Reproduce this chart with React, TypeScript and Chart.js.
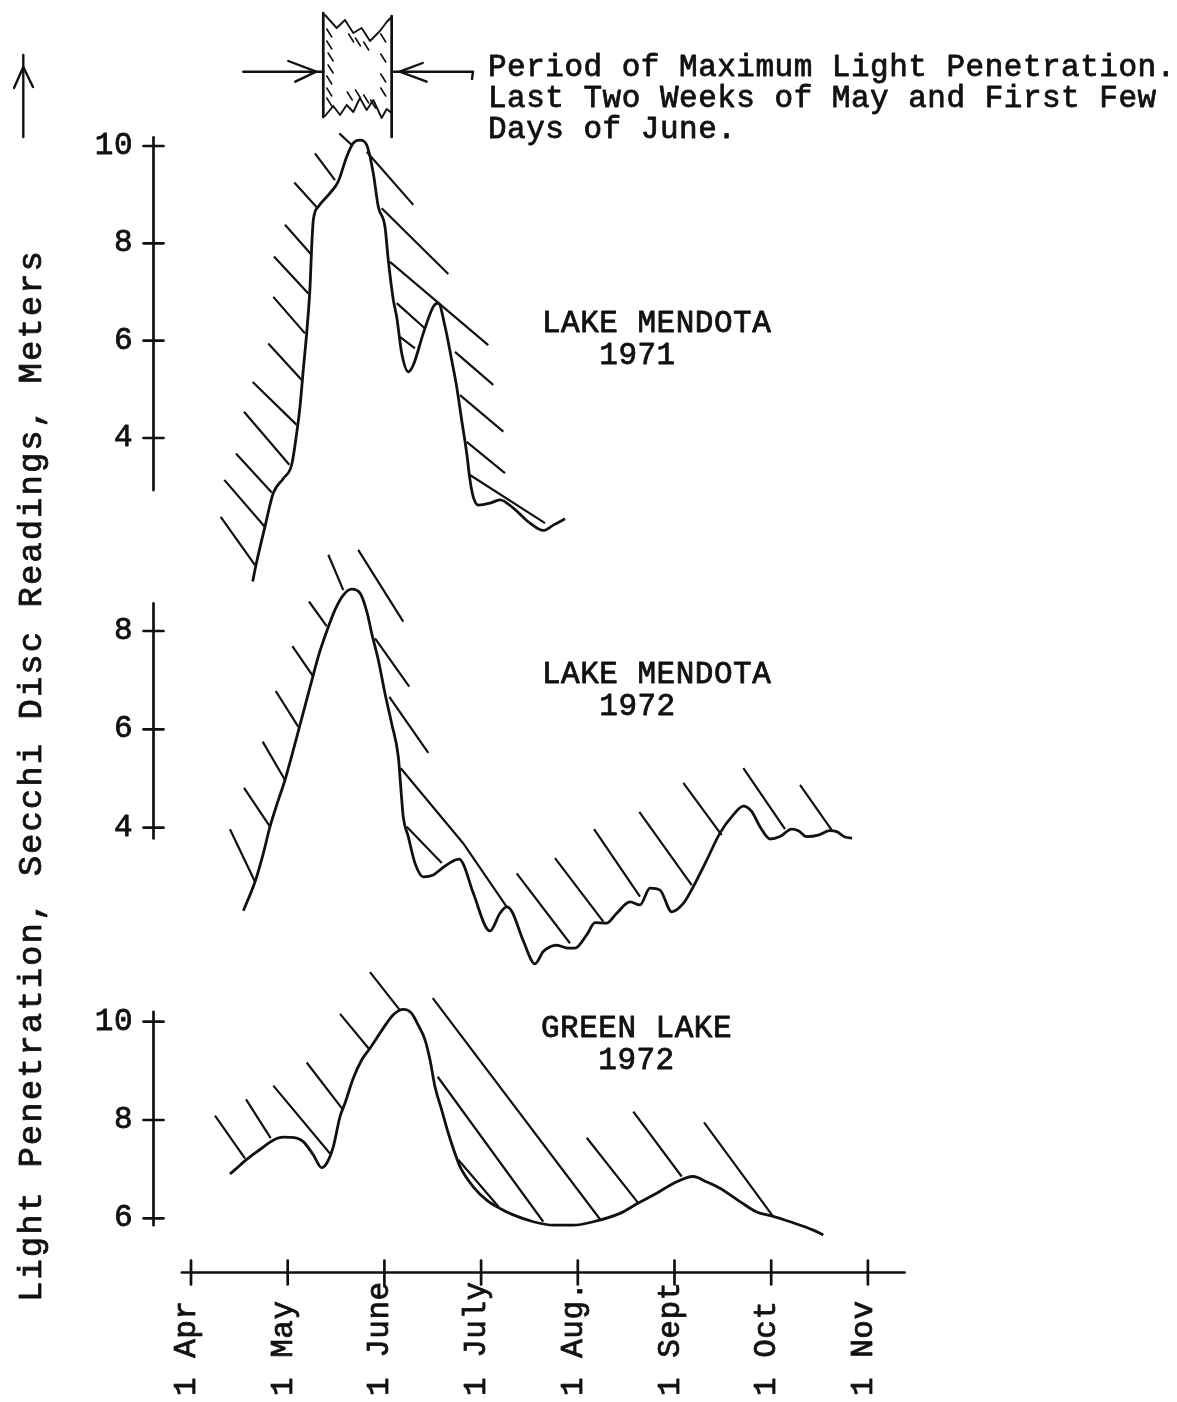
import React, { useEffect, useRef } from "react";
import { Chart, registerables } from "chart.js";

Chart.register(...registerables);

// ---------------- data (x = months after 1 April) ----------------
const MONTH_TICKS = [0, 1, 2, 3, 4, 5, 6, 7];
const MONTH_LABELS = ["1 Apr", "1 May", "1 June", "1 July", "1 Aug.", "1 Sept", "1 Oct", "1 Nov"];
const X_AXIS_RANGE = [-0.095, 7.38];

// Period of maximum light penetration (months after 1 April)
const PERIOD = [1.368, 2.075];

// Lake Mendota 1971 (Secchi depth, m)
const MENDOTA71_X = [0.638, 0.672, 0.765, 0.851, 0.955, 1.041, 1.093, 1.127, 1.161, 1.196, 1.231, 1.248, 1.265, 1.316, 1.437, 1.523, 1.61, 1.678, 1.748, 1.817, 1.885, 1.937, 2.006, 2.04, 2.092, 2.127, 2.179, 2.247, 2.299, 2.402, 2.506, 2.557, 2.627, 2.696, 2.748, 2.799, 2.851, 2.885, 2.919, 2.971, 3.092, 3.195, 3.333, 3.506, 3.643, 3.747, 3.868];
const MENDOTA71_Y = [1.05, 1.39, 2.18, 2.87, 3.17, 3.45, 4.1, 4.64, 5.4, 6.15, 7.11, 7.93, 8.48, 8.75, 9.03, 9.27, 9.78, 10.06, 10.12, 10.02, 9.44, 8.75, 8.34, 7.66, 6.84, 6.49, 5.74, 5.36, 5.5, 6.15, 6.7, 6.77, 6.29, 5.6, 5.05, 4.37, 3.69, 3.14, 2.79, 2.62, 2.66, 2.73, 2.56, 2.25, 2.1, 2.21, 2.34];
const MENDOTA71_TICKS = [4, 6, 8, 10];
const MENDOTA71_AXIS = [2.93, 10.18];
const MENDOTA71_HATCH = [
  [0.307, 2.38, 0.662, 1.39], [0.344, 3.14, 0.765, 2.17], [0.465, 3.68, 0.835, 2.88],
  [0.548, 4.54, 1.017, 3.45], [0.638, 5.15, 1.093, 4.27], [0.799, 5.94, 1.145, 5.19],
  [0.851, 6.9, 1.179, 6.15], [0.858, 7.73, 1.213, 6.97], [0.972, 8.38, 1.248, 7.76],
  [1.068, 9.25, 1.3, 8.74], [1.282, 9.85, 1.489, 9.3], [1.534, 10.26, 1.662, 10.02],
  [1.817, 9.88, 2.299, 8.79], [1.972, 8.72, 2.661, 7.37], [2.058, 7.62, 3.074, 5.91],
  [2.127, 6.77, 2.42, 6.25], [2.161, 6.08, 2.316, 5.84], [2.73, 5.77, 3.126, 5.09],
  [2.782, 4.88, 3.23, 4.13], [2.851, 3.92, 3.247, 3.28], [2.885, 3.24, 3.661, 2.25],
];

// Lake Mendota 1972
const MENDOTA72_X = [0.541, 0.662, 0.748, 0.817, 0.903, 0.972, 1.058, 1.127, 1.196, 1.265, 1.316, 1.403, 1.489, 1.575, 1.662, 1.748, 1.823, 1.869, 1.937, 2.006, 2.075, 2.144, 2.169, 2.195, 2.247, 2.316, 2.402, 2.506, 2.593, 2.696, 2.771, 2.816, 2.919, 3.092, 3.195, 3.265, 3.32, 3.436, 3.557, 3.643, 3.782, 3.902, 3.971, 4.092, 4.178, 4.299, 4.402, 4.54, 4.643, 4.747, 4.85, 4.971, 5.091, 5.194, 5.333, 5.47, 5.608, 5.712, 5.798, 5.884, 5.988, 6.091, 6.212, 6.28, 6.367, 6.487, 6.608, 6.677, 6.763, 6.836];
const MENDOTA72_Y = [2.31, 2.9, 3.48, 4.02, 4.56, 4.97, 5.58, 6.09, 6.6, 7.11, 7.48, 7.99, 8.43, 8.73, 8.85, 8.77, 8.36, 7.95, 7.41, 6.73, 6.12, 5.44, 4.83, 4.22, 3.82, 3.28, 3.0, 3.04, 3.17, 3.31, 3.36, 3.26, 2.67, 1.9, 2.26, 2.39, 2.29, 1.7, 1.23, 1.48, 1.61, 1.55, 1.55, 1.82, 2.07, 2.06, 2.26, 2.49, 2.43, 2.77, 2.73, 2.29, 2.46, 2.8, 3.34, 3.89, 4.26, 4.44, 4.33, 4.02, 3.77, 3.82, 3.97, 3.94, 3.82, 3.85, 3.94, 3.92, 3.81, 3.79];
const MENDOTA72_TICKS = [4, 6, 8];
const MENDOTA72_AXIS = [3.78, 8.56];
const MENDOTA72_HATCH = [
  [0.403, 3.97, 0.662, 2.9], [0.548, 4.81, 0.817, 4.02], [0.741, 5.75, 0.972, 4.97],
  [0.876, 6.78, 1.11, 6.05], [1.048, 7.69, 1.265, 7.07], [1.22, 8.6, 1.403, 8.1],
  [1.42, 9.55, 1.575, 8.83], [1.729, 9.65, 2.195, 8.19], [1.903, 7.85, 2.257, 6.87],
  [2.051, 6.66, 2.454, 5.52], [2.169, 5.21, 2.816, 3.68, 3.265, 2.39], [2.231, 4.02, 2.593, 3.28],
  [3.368, 3.07, 3.919, 1.65], [3.764, 3.38, 4.264, 2.09], [4.168, 3.97, 4.643, 2.6],
  [4.636, 4.32, 5.178, 2.83], [5.091, 4.91, 5.488, 3.85], [5.712, 5.21, 6.143, 3.97],
  [6.298, 4.87, 6.626, 3.95],
];

// Green Lake 1972
const GREEN72_X = [0.403, 0.507, 0.576, 0.713, 0.851, 0.954, 1.093, 1.161, 1.265, 1.352, 1.403, 1.472, 1.541, 1.592, 1.678, 1.765, 1.851, 1.989, 2.092, 2.195, 2.282, 2.35, 2.42, 2.472, 2.523, 2.593, 2.661, 2.73, 2.782, 2.919, 3.058, 3.195, 3.333, 3.54, 3.747, 3.953, 4.16, 4.436, 4.626, 4.816, 4.988, 5.194, 5.333, 5.47, 5.677, 5.85, 6.005, 6.195, 6.435, 6.539];
const GREEN72_Y = [6.9, 7.08, 7.2, 7.4, 7.59, 7.65, 7.63, 7.56, 7.29, 7.03, 7.12, 7.46, 8.07, 8.34, 8.85, 9.22, 9.46, 9.87, 10.14, 10.25, 10.17, 9.93, 9.63, 9.22, 8.68, 8.2, 7.73, 7.32, 7.05, 6.64, 6.37, 6.2, 6.07, 5.93, 5.86, 5.86, 5.93, 6.1, 6.31, 6.51, 6.71, 6.85, 6.74, 6.61, 6.34, 6.13, 6.05, 5.93, 5.76, 5.66];
const GREEN72_TICKS = [6, 8, 10];
const GREEN72_AXIS = [5.86, 10.2];
const GREEN72_HATCH = [
  [0.248, 8.09, 0.558, 7.22], [0.569, 8.42, 0.824, 7.63], [0.851, 8.7, 1.437, 7.32],
  [1.196, 9.17, 1.575, 8.2], [1.541, 10.16, 1.844, 9.44], [1.851, 11.01, 2.154, 10.25],
  [2.5, 10.48, 4.23, 5.98], [2.551, 8.88, 3.643, 5.93], [2.764, 7.19, 3.178, 6.24],
  [4.092, 7.64, 4.626, 6.31], [4.574, 8.17, 5.074, 6.85], [5.305, 7.95, 6.015, 6.05],
];

const Y_TITLE = "Light Penetration, Secchi Disc Readings, Meters";
const NOTE_LINES = ["Period of Maximum Light Penetration.", "Last Two Weeks of May and First Few", "Days of June."];

// ---------------- layout / style ----------------
const W = 1177;
const H = 1402;
const INK = "#111111";
const FONT = '"Liberation Mono", "DejaVu Sans Mono", monospace';
const APRIL_PX = 191;
const PX_PER_MONTH = 96.7;
const Y_AXIS_PX = 153.5;
const X_AXIS_PX = 1272.5;

function fitRange(va: number, pa: number, vb: number, pb: number) {
  const s = (pb - pa) / (va - vb);
  return { min: va - (H - pa) / s, max: va + pa / s };
}

const PANELS = [
  { id: "y1", ticks: MENDOTA71_TICKS, axis: MENDOTA71_AXIS, title: ["LAKE MENDOTA", "   1971"], tx: 542, ty: 332, range: fitRange(10, 146, 4, 438) },
  { id: "y2", ticks: MENDOTA72_TICKS, axis: MENDOTA72_AXIS, title: ["LAKE MENDOTA", "   1972"], tx: 542, ty: 683, range: fitRange(8, 631, 4, 827.7) },
  { id: "y3", ticks: GREEN72_TICKS, axis: GREEN72_AXIS, title: ["GREEN LAKE", "   1972"], tx: 541, ty: 1037, range: fitRange(10, 1021.7, 6, 1218.3) },
];

const TOP_ZIG = [[0.025, 15], [0.196, 28], [0.317, 20], [0.439, 33], [0.561, 28], [0.683, 41], [0.829, 31], [0.927, 22], [1, 17]];
const BOT_ZIG = [[0.025, 116], [0.146, 106], [0.244, 115], [0.342, 105], [0.439, 112], [0.536, 98], [0.634, 110], [0.732, 100], [0.854, 118], [0.927, 109], [1, 113]];
const BOX_STROKES = [[0.08, 33], [0.08, 45], [0.1, 57], [0.1, 69], [0.08, 80], [0.08, 92], [0.08, 102], [0.87, 38], [0.87, 58], [0.87, 78], [0.87, 92], [0.4, 38], [0.5, 42], [0.62, 46], [0.38, 96], [0.5, 94], [0.62, 99], [0.72, 104]];

function curveDataset(xs: number[], ys: number[], id: string) {
  return {
    data: xs.map((x, i) => ({ x, y: ys[i] })),
    xAxisID: "x",
    yAxisID: id,
    borderColor: INK,
    borderWidth: 2.8,
    pointRadius: 0,
    cubicInterpolationMode: "monotone",
    fill: false,
    clip: false,
  };
}

function hatchDataset(segs: number[][], id: string) {
  const data: { x: number; y: number | null }[] = [];
  segs.forEach((s) => {
    for (let i = 0; i < s.length; i += 2) data.push({ x: s[i], y: s[i + 1] });
    data.push({ x: s[s.length - 2], y: null });
  });
  return {
    data,
    xAxisID: "x",
    yAxisID: id,
    borderColor: INK,
    borderWidth: 2.2,
    pointRadius: 0,
    tension: 0,
    spanGaps: false,
    fill: false,
    clip: false,
  };
}

const decorPlugin = {
  id: "decor",
  afterDatasetsDraw(chart: any) {
    const ctx: CanvasRenderingContext2D = chart.ctx;
    const xs = chart.scales.x;
    const poly = (pts: number[][]) => {
      ctx.beginPath();
      pts.forEach(([x, y], i) => (i ? ctx.lineTo(x, y) : ctx.moveTo(x, y)));
      ctx.stroke();
    };
    const setFont = (size: number, spacing: number) => {
      ctx.font = `${size}px ${FONT}`;
      (ctx as any).letterSpacing = `${spacing}px`;
    };
    // typewriter-like text: fill plus a thin stroke for heavier ink
    const text = (s: string, x: number, y: number) => {
      ctx.save();
      ctx.lineWidth = 0.8;
      ctx.fillText(s, x, y);
      ctx.strokeText(s, x, y);
      ctx.restore();
    };
    ctx.save();
    ctx.strokeStyle = INK;
    ctx.fillStyle = INK;
    ctx.lineCap = "round";
    ctx.lineJoin = "round";

    // vertical axes, ticks, tick labels and lake names
    PANELS.forEach((p) => {
      const ys = chart.scales[p.id];
      ctx.lineWidth = 2.7;
      poly([[Y_AXIS_PX, ys.getPixelForValue(p.axis[1])], [Y_AXIS_PX, ys.getPixelForValue(p.axis[0])]]);
      setFont(31, 0.5);
      ctx.textAlign = "right";
      ctx.textBaseline = "alphabetic";
      p.ticks.forEach((t) => {
        const y = ys.getPixelForValue(t);
        ctx.lineWidth = 2.7;
        poly([[Y_AXIS_PX - 10, y], [Y_AXIS_PX + 10, y]]);
        text(String(t), 133, y + 8);
      });
      ctx.textAlign = "left";
      p.title.forEach((line, i) => text(line, p.tx, p.ty + i * 31.5));
    });

    // x axis
    ctx.lineWidth = 2.7;
    poly([[xs.getPixelForValue(X_AXIS_RANGE[0]), X_AXIS_PX], [xs.getPixelForValue(X_AXIS_RANGE[1]), X_AXIS_PX]]);
    setFont(31, 0.5);
    MONTH_TICKS.forEach((m, i) => {
      const x = xs.getPixelForValue(m);
      ctx.lineWidth = 2.7;
      poly([[x, X_AXIS_PX - 12], [x, X_AXIS_PX + 12]]);
      ctx.save();
      ctx.translate(x + 4, 1396);
      ctx.rotate(-Math.PI / 2);
      ctx.textAlign = "left";
      text(MONTH_LABELS[i], 0, 0);
      ctx.restore();
    });

    // y title with arrow
    setFont(34, 2);
    ctx.save();
    ctx.translate(41, 1302);
    ctx.rotate(-Math.PI / 2);
    ctx.textAlign = "left";
    text(Y_TITLE, 0, 0);
    ctx.restore();
    ctx.lineWidth = 2.4;
    poly([[23.3, 137], [23.3, 55]]);
    poly([[14, 88], [23.3, 67], [33, 87]]);

    // period box
    const bx0 = xs.getPixelForValue(PERIOD[0]);
    const bx1 = xs.getPixelForValue(PERIOD[1]);
    const bw = bx1 - bx0;
    ctx.lineWidth = 2.7;
    poly([[bx0, 13], [bx0, 117]]);
    poly([[bx1, 16], [bx1, 137]]);
    ctx.lineWidth = 1.9;
    poly(TOP_ZIG.map(([f, y]) => [bx0 + f * bw, y]));
    poly(BOT_ZIG.map(([f, y]) => [bx0 + f * bw, y]));
    ctx.lineWidth = 1.6;
    BOX_STROKES.forEach(([f, y]) => poly([[bx0 + f * bw - 2, y - 4], [bx0 + f * bw + 3, y + 4]]));
    // arrows
    ctx.lineWidth = 2.4;
    poly([[243.3, 71.7], [bx0, 71.7]]);
    poly([[bx0 - 35, 61], [bx0 - 7, 71.7], [bx0 - 28, 81.7]]);
    poly([[bx1, 71.7], [473, 71.7], [472, 79]]);
    poly([[bx1 + 31, 63], [bx1 + 8, 71.7], [bx1 + 35, 81.7]]);

    // note text
    setFont(31, 0.5);
    ctx.textAlign = "left";
    NOTE_LINES.forEach((line, i) => text(line, 488, 76 + i * 31));

    (ctx as any).letterSpacing = "0px";
    ctx.restore();
  },
};

export default function App() {
  const ref = useRef<HTMLCanvasElement | null>(null);
  useEffect(() => {
    if (!ref.current) return;
    const scales: any = {
      x: { type: "linear", display: false, min: -APRIL_PX / PX_PER_MONTH, max: (W - APRIL_PX) / PX_PER_MONTH },
    };
    PANELS.forEach((p) => {
      scales[p.id] = { type: "linear", display: false, min: p.range.min, max: p.range.max };
    });
    const chart = new Chart(ref.current, {
      type: "line",
      data: {
        datasets: [
          curveDataset(MENDOTA71_X, MENDOTA71_Y, "y1"),
          hatchDataset(MENDOTA71_HATCH, "y1"),
          curveDataset(MENDOTA72_X, MENDOTA72_Y, "y2"),
          hatchDataset(MENDOTA72_HATCH, "y2"),
          curveDataset(GREEN72_X, GREEN72_Y, "y3"),
          hatchDataset(GREEN72_HATCH, "y3"),
        ] as any,
      },
      options: {
        animation: false,
        responsive: false,
        devicePixelRatio: 1,
        events: [],
        layout: { padding: 0 },
        plugins: { legend: { display: false }, tooltip: { enabled: false }, title: { display: false } },
        scales,
      },
      plugins: [decorPlugin],
    });
    return () => chart.destroy();
  }, []);
  return (
    <div style={{ position: "absolute", left: 0, top: 0, width: W, height: H, background: "#fff" }}>
      <canvas ref={ref} width={W} height={H} style={{ display: "block", width: W, height: H }} />
    </div>
  );
}
